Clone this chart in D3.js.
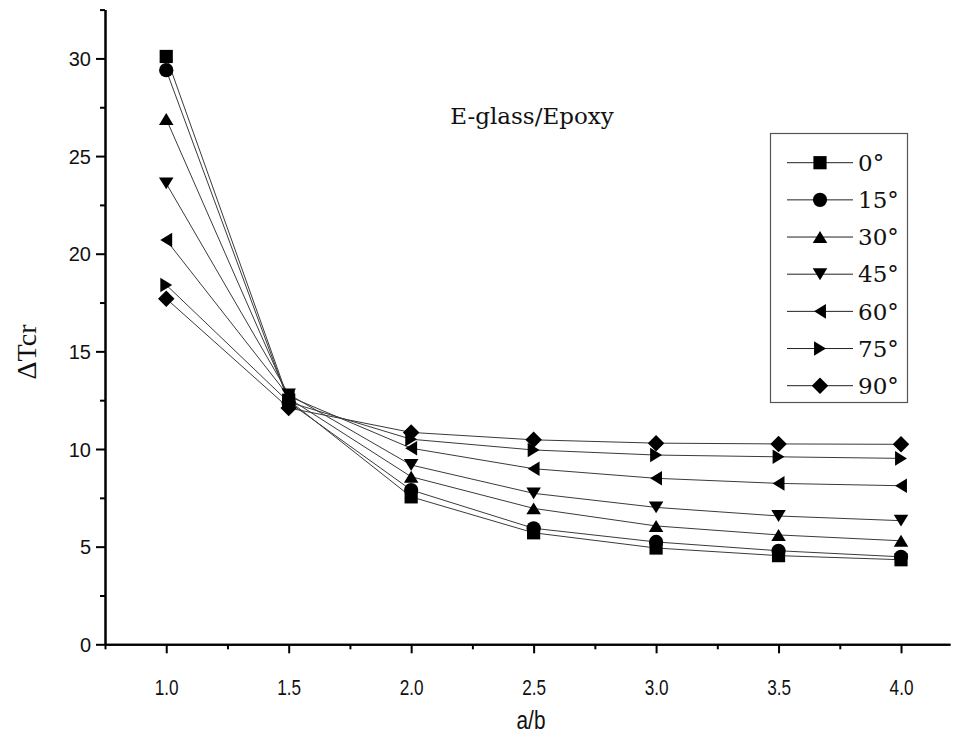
<!DOCTYPE html>
<html>
<head>
<meta charset="utf-8">
<script src="https://cdn.jsdelivr.net/npm/d3@7/dist/d3.min.js"></script>
<style>
  html, body { margin: 0; padding: 0; background: #fff; }
  svg { display: block; }
</style>
</head>
<body>
<svg id="chart" width="955" height="742"></svg>
<script>
// ---- data ----
const ratios = [1.0, 1.5, 2.0, 2.5, 3.0, 3.5, 4.0];
const seriesNames = ["0°", "15°", "30°", "45°", "60°", "75°", "90°"];
const s0  = [30.1, 12.5, 7.55, 5.71, 4.93, 4.54, 4.33];
const s15 = [29.4, 12.4, 7.90, 5.94, 5.24, 4.79, 4.48];
const s30 = [26.9, 12.6, 8.58, 6.96, 6.06, 5.60, 5.30];
const s45 = [23.6, 12.8, 9.18, 7.73, 7.01, 6.57, 6.33];
const s60 = [20.7, 12.7, 10.04, 8.99, 8.50, 8.24, 8.12];
const s75 = [18.4, 12.4, 10.50, 9.95, 9.69, 9.60, 9.52];
const s90 = [17.7, 12.1, 10.85, 10.47, 10.30, 10.26, 10.24];
const seriesValues = [s0, s15, s30, s45, s60, s75, s90];
const xMajorTicks = [1.0, 1.5, 2.0, 2.5, 3.0, 3.5, 4.0];
const xMinorTicks = [0.75, 1.25, 1.75, 2.25, 2.75, 3.25, 3.75];
const yMajorTicks = [0, 5, 10, 15, 20, 25, 30];
const yMinorTicks = [2.5, 7.5, 12.5, 17.5, 22.5, 27.5, 32.5];
const annotation = "E-glass/Epoxy";
const xTitle = "a/b";
const yTitle = "ΔTcr";

// ---- layout ----
const svg = d3.select("#chart");
const x = d3.scaleLinear().domain([0.75, 4.2]).range([105, 950]);
const y = d3.scaleLinear().domain([0, 32.5]).range([644.3, 9.6]);

// ---- marker shapes (size = half-extent) ----
function poly(pts) {
  return { draw(ctx, r) {
    pts.forEach((p, i) => i ? ctx.lineTo(p[0] * r, p[1] * r) : ctx.moveTo(p[0] * r, p[1] * r));
    ctx.closePath();
  }};
}
const shapes = [
  poly([[-1, -1], [1, -1], [1, 1], [-1, 1]]),                  // square
  { draw(ctx, r) { const k = 1.08 * r; ctx.moveTo(k, 0); ctx.arc(0, 0, k, 0, 2 * Math.PI); } }, // circle
  poly([[0, -0.9], [1.1, 0.9], [-1.1, 0.9]]),                   // up
  poly([[0, 0.9], [1.1, -0.9], [-1.1, -0.9]]),                  // down
  poly([[-0.9, 0], [0.9, -1.1], [0.9, 1.1]]),                   // left
  poly([[0.9, 0], [-0.9, -1.1], [-0.9, 1.1]]),                  // right
  poly([[0, -1.25], [1.25, 0], [0, 1.25], [-1.25, 0]])          // diamond
];
const R = 6.6;
function symPath(i) { return d3.symbol().type(shapes[i]).size(R)(); }

const narrowFont = "'Liberation Sans', Arial, sans-serif";

// ---- axes ----
const axisG = svg.append("g").attr("class", "axes");
const xMaj = axisG.append("g").attr("transform", `translate(0,${y(0)})`)
  .call(d3.axisBottom(x).tickValues(xMajorTicks).tickSize(9).tickSizeOuter(0).tickPadding(26)
    .tickFormat(d3.format(".1f")));
const xMin = axisG.append("g").attr("transform", `translate(0,${y(0)})`)
  .call(d3.axisBottom(x).tickValues(xMinorTicks).tickSize(5).tickSizeOuter(0).tickFormat(""));
const yMaj = axisG.append("g").attr("transform", `translate(${x(0.75)},0)`)
  .call(d3.axisLeft(y).tickValues(yMajorTicks).tickSize(9).tickSizeOuter(0).tickPadding(5)
    .tickFormat(d3.format("d")));
const yMin = axisG.append("g").attr("transform", `translate(${x(0.75)},0)`)
  .call(d3.axisLeft(y).tickValues(yMinorTicks).tickSize(5).tickSizeOuter(0).tickFormat(""));

axisG.selectAll(".domain").attr("stroke", "#000").attr("stroke-width", 2);
axisG.selectAll(".tick line").attr("stroke", "#000").attr("stroke-width", 2);
xMaj.selectAll("text").attr("font-family", narrowFont)
  .attr("font-size", 22).attr("fill", "#111").attr("transform", "scale(0.78,1)");
yMaj.selectAll("text").attr("font-family", "'Liberation Sans', Arial, sans-serif")
  .attr("font-size", 20).attr("fill", "#111").attr("dy", "0.36em");

// ---- lines ----
const line = d3.line().x((d, i) => x(ratios[i])).y(d => y(d));
const plot = svg.append("g");
plot.selectAll("path.series").data(seriesValues).join("path")
  .attr("class", "series")
  .attr("d", d => line(d))
  .attr("fill", "none").attr("stroke", "#3a3a3a").attr("stroke-width", 1);

// ---- markers ----
seriesValues.forEach((vals, si) => {
  plot.append("g").selectAll("path").data(vals).join("path")
    .attr("d", symPath(si))
    .attr("transform", (d, i) => `translate(${x(ratios[i])},${y(d)})`)
    .attr("fill", "#000");
});

// ---- annotation ----
svg.append("text").attr("x", 532).attr("y", 124).attr("text-anchor", "middle")
  .attr("font-family", "'DejaVu Serif', 'Liberation Serif', serif").attr("font-size", 23)
  .attr("fill", "#111").text(annotation);

// ---- legend ----
const legend = svg.append("g");
legend.append("rect").attr("x", 770.5).attr("y", 133.5).attr("width", 137).attr("height", 269)
  .attr("fill", "#fff").attr("stroke", "#555").attr("stroke-width", 1.2);
const rowY = d3.scaleLinear().domain([0, 6]).range([162.7, 385.7]);
seriesNames.forEach((name, i) => {
  const g = legend.append("g").attr("transform", `translate(0,${rowY(i)})`);
  g.append("line").attr("x1", 787).attr("x2", 853).attr("y1", 0).attr("y2", 0)
    .attr("stroke", "#222").attr("stroke-width", 1);
  g.append("path").attr("d", symPath(i)).attr("transform", "translate(820,0)").attr("fill", "#000");
  g.append("text").attr("x", 858).attr("y", 0).attr("dy", "0.36em")
    .attr("font-family", "'DejaVu Serif', 'Liberation Serif', serif").attr("font-size", 23)
    .attr("fill", "#111").text(name);
});

// ---- axis titles ----
svg.append("text").attr("transform", "translate(531,729) scale(0.8,1)").attr("text-anchor", "middle")
  .attr("font-family", narrowFont)
  .attr("font-size", 26).attr("fill", "#111").text(xTitle);
svg.append("text").attr("transform", "translate(36,352) rotate(-90)").attr("text-anchor", "middle")
  .attr("font-family", "'Liberation Serif', 'Times New Roman', serif")
  .attr("font-size", 28).attr("fill", "#111").text(yTitle);
</script>
</body>
</html>
